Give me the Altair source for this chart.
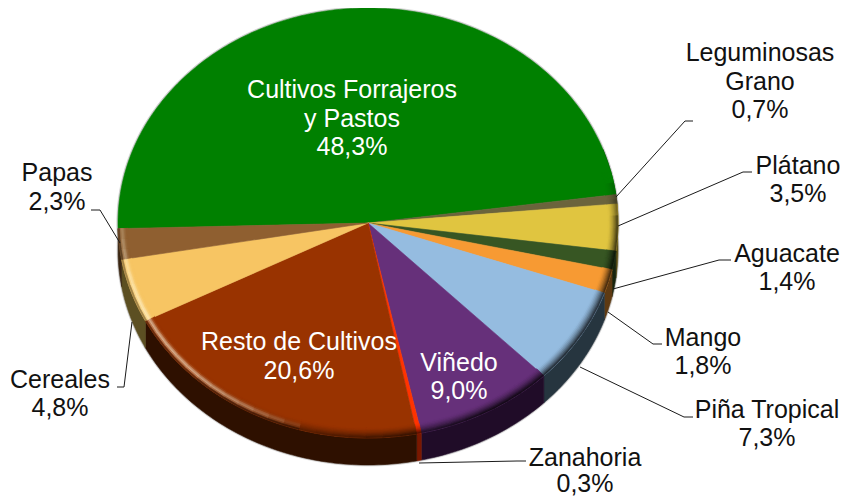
import math
import altair as alt

names = ["Cultivos Forrajeros", "Leguminosas Grano", "Plátano", "Aguacate", "Mango", "Piña Tropical",
         "Viñedo", "Zanahoria", "Resto de Cultivos", "Cereales", "Papas"]
shares = [48.3, 0.7, 3.5, 1.4, 1.8, 7.3, 9.0, 0.3, 20.6, 4.8, 2.3]
colors = ["#008000", "#6b643c", "#e0c540", "#375623", "#f79a33", "#95bce0",
          "#66307a", "#ff3300", "#993300", "#f7c563", "#8f5f30"]
wall_colors = ["#003000", "#2e2a18", "#5e5218", "#17240e", "#5e3a12", "#26353f",
               "#200c28", "#7a1800", "#2e1000", "#5c4f22", "#3a2612"]

label_lines = [
    ["Leguminosas", "Grano", "0,7%"], ["Plátano", "3,5%"], ["Aguacate", "1,4%"], ["Mango", "1,8%"],
    ["Piña Tropical", "7,3%"], ["Zanahoria", "0,3%"], ["Cereales", "4,8%"], ["Papas", "2,3%"],
]
label_x = [760, 798, 787, 703, 767, 585, 60, 57]
label_y = [[53, 82, 110], [166, 194], [254, 282], [338, 366], [410, 438], [458, 484], [380, 408], [173, 202]]
inner_lines = [["Cultivos Forrajeros", "y Pastos", "48,3%"], ["Resto de Cultivos", "20,6%"], ["Viñedo", "9,0%"]]
inner_x = [352, 299, 459]
inner_y = [[90, 119, 147], [342, 371], [363, 391]]

leaders = [
    [(616, 197), (685, 121), (693, 121)],
    [(618, 226), (743, 172), (752, 172)],
    [(613, 289), (719, 260), (731, 260)],
    [(608, 312), (653, 344), (662, 344)],
    [(580, 367), (684, 417), (693, 417)],
    [(419, 463), (517, 461), (526, 461)],
    [(132, 322), (124, 387), (117, 387)],
    [(120, 243), (100, 210), (91, 210)],
]

M = 8
CX, CY, RX, RY, DEPTH = 368 - M, 223 - M, 250, 215, 27
START = 181.5
BEVEL = 10
BANDS = 7


def hex2rgb(c):
    return tuple(int(c[i:i + 2], 16) for i in (1, 3, 5))


def mix(c, target, t):
    a = hex2rgb(c)
    t = max(0, min(1, t))
    return "#%02x%02x%02x" % tuple(round(x + (y - x) * t) for x, y in zip(a, target))


def pt(deg, inset=0, dy=0):
    r = math.radians(deg)
    return [CX + (RX - inset) * math.cos(r), CY + dy - (RY - inset) * math.sin(r)]


def feat(ring, col):
    ring = ring + [ring[0]]
    return {"type": "Feature", "geometry": {"type": "Polygon", "coordinates": [ring]},
            "properties": {"c": col}}


def arc(a0, a1, step=1.0):
    n = max(2, int(abs(a1 - a0) / step) + 1)
    return [a0 + (a1 - a0) * i / n for i in range(n + 1)]


def dark(p):
    if p > 0:
        return 0.75 * max(0, 1 - p / 12)
    if p > -60:
        return 0.75 + 0.15 * (-p / 60)
    if p > -150:
        return 0.9 * (1 + (p + 60) / 90)
    return 0.0


def light(p):
    if -185 < p < -105:
        return 0.6 * math.sin(math.pi * (p + 185) / 80) ** 0.8
    return 0.0


features = []
angles = []
a = START
for s in shares:
    b = a - s * 3.6
    angles.append((a, b))
    a = b

features.append(feat([pt(t, -1.2) for t in arc(0, 360, 2)], "#c9c9c9"))
features.append(feat([pt(t, -1, DEPTH) for t in arc(170, 370, 2)], "#d0d0d0"))
for (a0, a1), wc in zip(angles, wall_colors):
    lo, hi = max(a1, -200), min(a0, 20)
    if hi <= lo:
        continue
    ts = arc(hi, lo)
    ring = [pt(t) for t in ts] + [pt(t, 0, DEPTH) for t in reversed(ts)]
    features.append(feat(ring, wc))

for (a0, a1), col in zip(angles, colors):
    ts = arc(a0, a1)
    features.append(feat([[CX, CY]] + [pt(t) for t in ts], col))

for (a0, a1), col in zip(angles, colors):
    lo, hi = a1, a0
    if hi > 14:
        if lo > 14:
            continue
        hi = 14
    ts = arc(hi, lo, 4)
    for u, v in zip(ts[:-1], ts[1:]):
        m = (u + v) / 2
        for k in range(BANDS):
            i0 = BEVEL * (1 - k / BANDS)
            i1 = BEVEL * (1 - (k + 1) / BANDS)
            f = (k + 0.5) / BANDS
            d = dark(m)
            l = light(m)
            c = mix(col, (0, 0, 0), d * f ** 1.6 if -135 < m else 0)
            if l > 0:
                bump = math.exp(-((f - 0.62) / 0.22) ** 2)
                c = mix(c, (255, 255, 235), l * bump)
                if f > 0.85:
                    c = mix(c, (0, 0, 0), 0.35)
            features.append(feat([pt(u, i0), pt(v, i0), pt(v, i1), pt(u, i1)], c))

shapes = alt.Chart(alt.InlineData(values=features)).mark_geoshape(strokeWidth=0.6).encode(
    fill=alt.Fill("properties.c:N", scale=None),
    stroke=alt.Stroke("properties.c:N", scale=None),
).project(type="identity", scale=1, translate=[0, 0])

line_rows = []
for i, path in enumerate(leaders):
    for j, (x, y) in enumerate(path):
        line_rows.append({"g": i, "o": j, "x": x - M, "y": y - M})
lines = alt.Chart(alt.Data(values=line_rows)).mark_line(color="#1a1a1a", strokeWidth=1).encode(
    x=alt.X("x:Q", scale=None, axis=None), y=alt.Y("y:Q", scale=None, axis=None),
    detail="g:N", order="o:Q")

rows = []
for ls, x, ys in zip(label_lines, label_x, label_y):
    for t, y in zip(ls, ys):
        rows.append({"t": t, "x": x - M, "y": y - M, "c": "#111111"})
for ls, x, ys in zip(inner_lines, inner_x, inner_y):
    for t, y in zip(ls, ys):
        rows.append({"t": t, "x": x - M, "y": y - M, "c": "#ffffff"})
texts = alt.Chart(alt.Data(values=rows)).mark_text(
    font="Liberation Sans", fontSize=25, align="center", baseline="middle").encode(
    x=alt.X("x:Q", scale=None, axis=None), y=alt.Y("y:Q", scale=None, axis=None), text="t:N",
    color=alt.Color("c:N", scale=None))

chart = alt.layer(shapes, lines, texts).properties(
    width=832, height=488, padding=0, background="#ffffff",
    autosize=alt.AutoSizeParams(type="none"),
    view=alt.ViewBackground(stroke="transparent"),
).configure_view(stroke="transparent", strokeWidth=0)

chart.save("out.html", embed_options={"renderer": "svg", "actions": False})
